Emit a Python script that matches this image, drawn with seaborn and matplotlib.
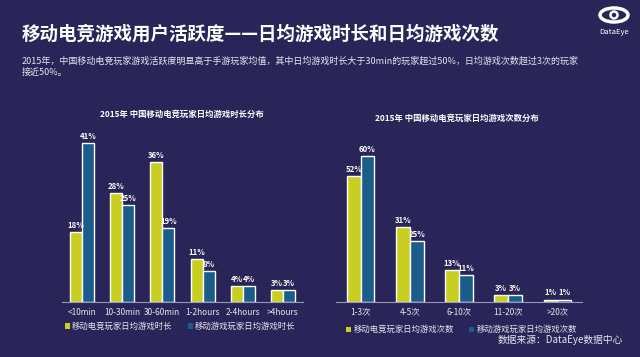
import matplotlib
matplotlib.use("Agg")
import matplotlib.pyplot as plt
import seaborn as sns
import pandas as pd
from matplotlib.patches import Ellipse, Patch

sns.set_theme(style="white")
plt.rcParams['font.family'] = ['Noto Sans CJK SC', 'DejaVu Sans']

BG = "#2a2558"
YELLOW = "#c9cf22"
BLUE = "#1a5d8a"
TXT = "#e6e6ee"

# Left chart data
dur_cats = ["<10min", "10-30min", "30-60min", "1-2hours", "2-4hours", ">4hours"]
dur_esports = [18, 28, 36, 11, 4, 3]
dur_mobile = [41, 25, 19, 8, 4, 3]
dur_series = ["移动电竞玩家日均游戏时长", "移动游戏玩家日均游戏时长"]

# Right chart data
cnt_cats = ["1-3次", "4-5次", "6-10次", "11-20次", ">20次"]
cnt_esports = [52, 31, 13, 3, 1]
cnt_mobile = [60, 25, 11, 3, 1]
cnt_series = ["移动电竞玩家日均游戏次数", "移动游戏玩家日均游戏次数"]

title = "移动电竞游戏用户活跃度——日均游戏时长和日均游戏次数"
subtitle = ("2015年，中国移动电竞玩家游戏活跃度明显高于手游玩家均值，其中日均游戏时长大于30min的玩家超过50%，日均游戏次数超过3次的玩家\n"
            "接近50%。")
left_title = "2015年 中国移动电竞玩家日均游戏时长分布"
right_title = "2015年 中国移动电竞玩家日均游戏次数分布"
source = "数据来源：DataEye数据中心"

W, H = 640, 357
fig = plt.figure(figsize=(W / 100, H / 100), dpi=100, facecolor=BG)


def fx(px):
    return px / W


def fy(py):
    return 1 - py / H


def make_df(cats, a, b, names):
    rows = []
    for c, v in zip(cats, a):
        rows.append({"cat": c, "val": v, "series": names[0]})
    for c, v in zip(cats, b):
        rows.append({"cat": c, "val": v, "series": names[1]})
    return pd.DataFrame(rows)


def draw(ax, df, cats, names, width, ymax, legend_x, legend_y):
    ax.set_facecolor(BG)
    sns.barplot(data=df, x="cat", y="val", hue="series", order=cats,
                hue_order=names, palette=[YELLOW, BLUE], width=width,
                saturation=1, ax=ax, legend=False, errorbar=None)
    for cont in ax.containers:
        ax.bar_label(cont, labels=[f"{int(v)}%" for v in cont.datavalues],
                     padding=1.5, color="white", fontsize=5.6, fontweight="bold")
    ax.set_ylim(0, ymax)
    ax.set_xlabel("")
    ax.set_ylabel("")
    ax.set_yticks([])
    for s in ["top", "right", "left"]:
        ax.spines[s].set_visible(False)
    ax.spines["bottom"].set_color("#9a98b8")
    ax.spines["bottom"].set_linewidth(0.8)
    ax.tick_params(axis="x", colors=TXT, labelsize=6, length=0, pad=4)
    handles = [Patch(facecolor=YELLOW, edgecolor="none"),
               Patch(facecolor=BLUE, edgecolor="none")]
    ax.legend(handles, names, loc="center", bbox_to_anchor=(legend_x, legend_y),
              ncol=2, frameon=False, fontsize=6, labelcolor=TXT,
              handlelength=0.6, handleheight=0.6, handletextpad=0.3,
              columnspacing=1.8)


# Left axes
axL = fig.add_axes([fx(62), fy(302), fx(303 - 62), (302 - 128) / H])
draw(axL, make_df(dur_cats, dur_esports, dur_mobile, dur_series), dur_cats,
     dur_series, 0.6, (302 - 128) / 3.88, 0.49, -0.14)

# Right axes
axR = fig.add_axes([fx(336), fy(302), fx(582 - 336), (302 - 128) / H])
draw(axR, make_df(cnt_cats, cnt_esports, cnt_mobile, cnt_series), cnt_cats,
     cnt_series, 0.56, (302 - 128) / 2.43, 0.51, -0.16)

# Texts
fig.text(fx(22), fy(34), title, color="white", fontsize=13.3, fontweight="bold",
         va="center", ha="left")
fig.text(fx(22), fy(67), subtitle, color=TXT, fontsize=6.5, va="center",
         ha="left", linespacing=1.35)
fig.text(fx(182), fy(114), left_title, color="white", fontsize=6,
         fontweight="bold", ha="center", va="center")
fig.text(fx(457), fy(118), right_title, color="white", fontsize=6,
         fontweight="bold", ha="center", va="center")
fig.text(fx(623), fy(340), source, color=TXT, fontsize=7, ha="right",
         va="center")

# Logo
fig.patches.append(Ellipse((fx(614), fy(15)), fx(28), 14 / H, fill=False,
                           edgecolor="white", linewidth=2.5,
                           transform=fig.transFigure))
fig.patches.append(Ellipse((fx(614), fy(15)), fx(7), 7 / H, fill=False,
                           edgecolor="white", linewidth=1.8,
                           transform=fig.transFigure))
fig.text(fx(614), fy(32), "DataEye", color="white", fontsize=5.5,
         ha="center", va="center")

fig.savefig("out.png", dpi=100, facecolor=BG)
